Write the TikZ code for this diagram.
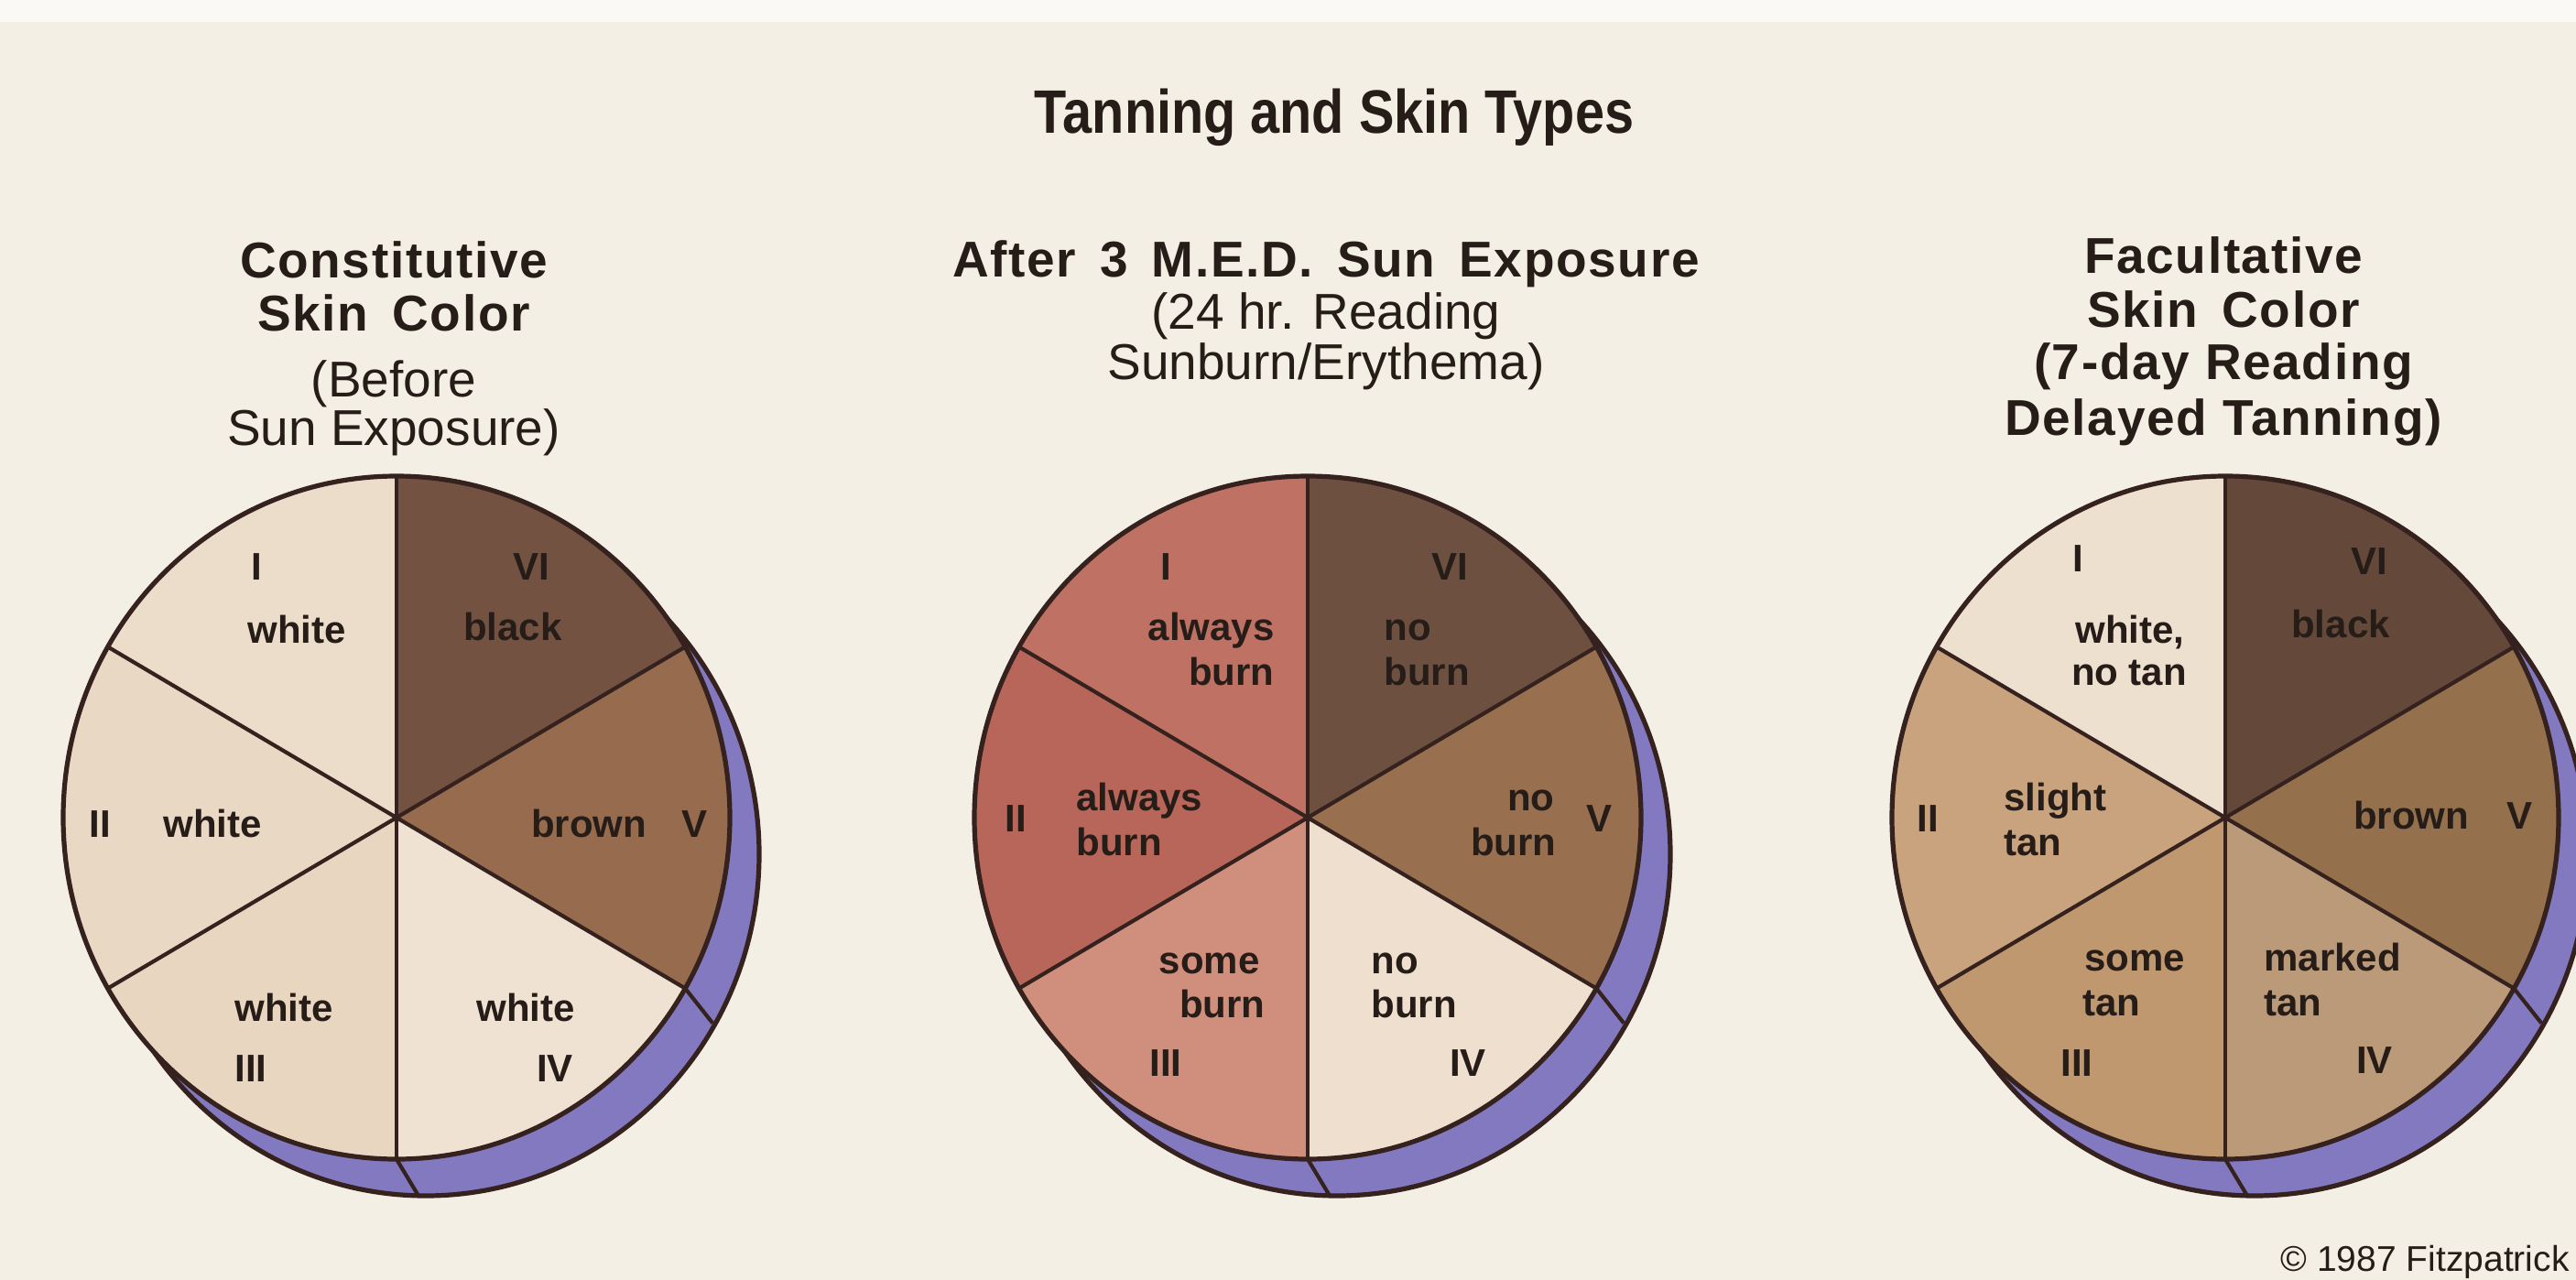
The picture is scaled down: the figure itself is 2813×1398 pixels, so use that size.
\documentclass[tikz,border=0pt]{standalone}
\usepackage{fontspec}
\setmainfont{Liberation Sans}
\newfontfamily\titlefont[FakeStretch=0.86]{Liberation Sans}
\newfontfamily\headfont[LetterSpace=3]{Liberation Sans}
\usetikzlibrary{calc}
\definecolor{bgc}{HTML}{F3EFE4}
\definecolor{topc}{HTML}{FAF9F5}
\definecolor{ink}{HTML}{261C18}
\definecolor{edgec}{HTML}{35221F}
\definecolor{shadowc}{HTML}{8379C0}
\definecolor{pAI}{HTML}{ECDDCB}
\definecolor{pAII}{HTML}{E9D8C4}
\definecolor{pAIII}{HTML}{E9D6C0}
\definecolor{pAIV}{HTML}{F0E2D2}
\definecolor{pAV}{HTML}{976B4E}
\definecolor{pAVI}{HTML}{735242}
\definecolor{pBI}{HTML}{BF7264}
\definecolor{pBII}{HTML}{B86659}
\definecolor{pBIII}{HTML}{CF8F7C}
\definecolor{pBIV}{HTML}{EFDFCE}
\definecolor{pBV}{HTML}{98704F}
\definecolor{pBVI}{HTML}{6E5040}
\definecolor{pCI}{HTML}{EEE0CF}
\definecolor{pCII}{HTML}{C8A37D}
\definecolor{pCIII}{HTML}{BF9870}
\definecolor{pCIV}{HTML}{BA9A78}
\definecolor{pCV}{HTML}{94704C}
\definecolor{pCVI}{HTML}{64493A}
\newcommand{\skinslice}[4]{%
  \fill[#4] (#1) -- ++(#2:364 and 373) arc[start angle=#2, end angle=#3, x radius=364, y radius=373] -- cycle;}
\newcommand{\skinpie}[7]{%
  \fill[shadowc] ($(#1)+(32,-40)$) ellipse[x radius=364, y radius=373];
  \draw[rimline] ($(#1)+(32,-40)$) ellipse[x radius=364, y radius=373];
  \skinslice{#1}{90}{150}{#2}
  \skinslice{#1}{150}{210}{#3}
  \skinslice{#1}{210}{270}{#4}
  \skinslice{#1}{270}{330}{#5}
  \skinslice{#1}{-30}{30}{#6}
  \skinslice{#1}{30}{90}{#7}
  \foreach \ang in {90,30,-30,-90,210,150}{\draw[spoke] (#1) -- ++(\ang:364 and 373);}
  \draw[spoke] ($(#1)+(-30:364 and 373)$) -- ++(30,-38);
  \draw[spoke] ($(#1)+(-90:364 and 373)$) -- ++(24,-40);
  \draw[rimline] (#1) ellipse[x radius=364, y radius=373];
}
\begin{document}
\begin{tikzpicture}[x=0.5pt, y=0.5pt,
  rimline/.style={draw=edgec, line width=2.6pt},
  spoke/.style={draw=edgec, line width=2.1pt},
  lbl/.style={font=\fontsize{21}{24}\selectfont\bfseries, text=ink, inner sep=0pt},
  hdb/.style={font=\headfont\bfseries\fontsize{27.5}{33}\selectfont, text=ink, inner sep=0pt, anchor=base},
  hdr/.style={font=\fontsize{27.5}{33}\selectfont, text=ink, inner sep=0pt, anchor=base},
  ttl/.style={font=\titlefont\bfseries\fontsize{33.5}{38}\selectfont, text=ink, inner sep=0pt, anchor=base}]
\useasboundingbox (0,0) rectangle (2813,-1398);
\fill[bgc] (0,0) rectangle (2813,-1398);
\fill[topc] (0,0) rectangle (2813,-24);

\node[ttl] (title) at (1457,-145) {Tanning and Skin Types};

% headings
\node[hdb] (h1a) at (430,-303) {Constitutive};
\node[hdb] (h1b) at (430,-361) {Skin\, Color};
\node[hdr] (h1c) at (430,-433) {(Before};
\node[hdr] (h1d) at (430,-486) {Sun Exposure)};
\node[hdb] (h2a) at (1448,-302) {After\, 3\, M.E.D.\, Sun\, Exposure};
\node[hdr] (h2b) at (1448,-359) {(24 hr. Reading};
\node[hdr] (h2c) at (1448,-414) {Sunburn/Erythema)};
\node[hdb] (h3a) at (2428,-298) {Facultative};
\node[hdb] (h3b) at (2428,-357) {Skin\, Color};
\node[hdb] (h3c) at (2428,-414) {(7-day Reading};
\node[hdb] (h3d) at (2428,-475) {Delayed Tanning)};

\coordinate (c1) at (433,-893);
\coordinate (c2) at (1428,-893);
\coordinate (c3) at (2430,-893);

\skinpie{c1}{pAI}{pAII}{pAIII}{pAIV}{pAV}{pAVI}
\skinpie{c2}{pBI}{pBII}{pBIII}{pBIV}{pBV}{pBVI}
\skinpie{c3}{pCI}{pCII}{pCIII}{pCIV}{pCV}{pCVI}

% pie 1 labels
\node[lbl, anchor=base] (a1) at (280,-633) {I};
\node[lbl, anchor=base] (a1t) at (324,-702) {white};
\node[lbl, anchor=base] (a6) at (580,-633) {VI};
\node[lbl, anchor=base] (a6t) at (560,-699) {black};
\node[lbl, anchor=base] (a2) at (109,-914) {II};
\node[lbl, anchor=base] (a2t) at (232,-914) {white};
\node[lbl, anchor=base] (a5t) at (643,-914) {brown};
\node[lbl, anchor=base] (a5) at (758,-914) {V};
\node[lbl, anchor=base] (a3t) at (310,-1115) {white};
\node[lbl, anchor=base] (a3) at (274,-1181) {III};
\node[lbl, anchor=base] (a4t) at (574,-1115) {white};
\node[lbl, anchor=base] (a4) at (606,-1181) {IV};

% pie 2 labels
\node[lbl, anchor=base] (b1) at (1273,-633) {I};
\node[lbl, anchor=base east] (b1t) at (1392,-699) {always};
\node[lbl, anchor=base east] (b1u) at (1392,-748) {burn};
\node[lbl, anchor=base] (b6) at (1583,-633) {VI};
\node[lbl, anchor=base west] (b6t) at (1511,-699) {no};
\node[lbl, anchor=base west] (b6u) at (1511,-748) {burn};
\node[lbl, anchor=base] (b2) at (1109,-908) {II};
\node[lbl, anchor=base west] (b2t) at (1175,-885) {always};
\node[lbl, anchor=base west] (b2u) at (1175,-934) {burn};
\node[lbl, anchor=base east] (b5t) at (1698,-885) {no};
\node[lbl, anchor=base east] (b5u) at (1700,-934) {burn};
\node[lbl, anchor=base] (b5) at (1746,-908) {V};
\node[lbl, anchor=base east] (b3t) at (1376,-1063) {some};
\node[lbl, anchor=base east] (b3u) at (1382,-1111) {burn};
\node[lbl, anchor=base] (b3) at (1273,-1175) {III};
\node[lbl, anchor=base west] (b4t) at (1497,-1063) {no};
\node[lbl, anchor=base west] (b4u) at (1497,-1111) {burn};
\node[lbl, anchor=base] (b4) at (1603,-1175) {IV};

% pie 3 labels
\node[lbl, anchor=base] (d1) at (2269,-624) {I};
\node[lbl, anchor=base] (d1t) at (2326,-702) {white,};
\node[lbl, anchor=base] (d1u) at (2325,-748) {no tan};
\node[lbl, anchor=base] (d6) at (2587,-627) {VI};
\node[lbl, anchor=base] (d6t) at (2556,-696) {black};
\node[lbl, anchor=base] (d2) at (2105,-908) {II};
\node[lbl, anchor=base west] (d2t) at (2188,-885) {slight};
\node[lbl, anchor=base west] (d2u) at (2188,-934) {tan};
\node[lbl, anchor=base] (d5t) at (2633,-905) {brown};
\node[lbl, anchor=base] (d5) at (2751,-905) {V};
\node[lbl, anchor=base west] (d3t) at (2276,-1060) {some};
\node[lbl, anchor=base west] (d3u) at (2274,-1109) {tan};
\node[lbl, anchor=base west] (d4t) at (2472,-1060) {marked};
\node[lbl, anchor=base west] (d4u) at (2472,-1109) {tan};
\node[lbl, anchor=base] (d3) at (2268,-1175) {III};
\node[lbl, anchor=base] (d4) at (2593,-1172) {IV};

\node[font=\fontsize{19.5}{23}\selectfont, text=ink, inner sep=0pt, anchor=base east] (copy) at (2806,-1388) {© 1987 Fitzpatrick};
\end{tikzpicture}
\end{document}
